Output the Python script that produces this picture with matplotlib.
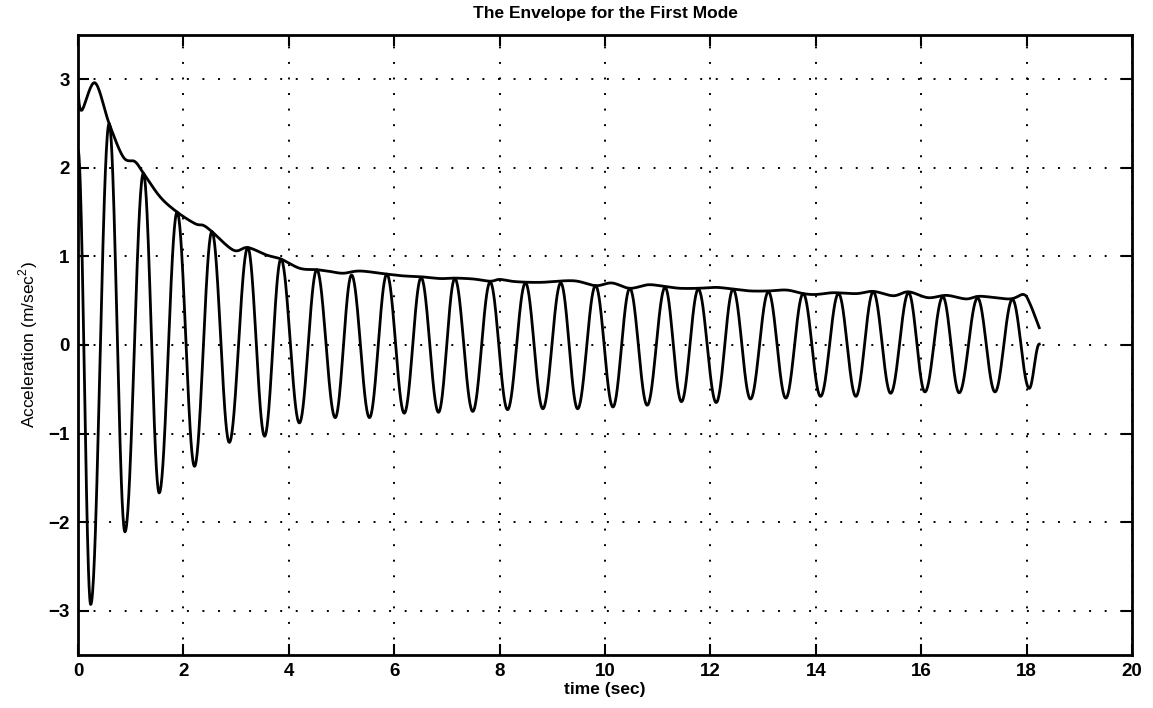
import numpy as np
import matplotlib
matplotlib.use("Agg")
import matplotlib.pyplot as plt

# ---- data ----
# extrema of the oscillating acceleration signal (time, value)
sig_t = [0.00, 0.24, 0.59, 0.89, 1.24, 1.54, 1.88, 2.21, 2.54, 2.87, 3.22, 3.54,
         3.85, 4.20, 4.53, 4.88, 5.19, 5.53, 5.86, 6.19, 6.51, 6.84, 7.15, 7.49,
         7.82, 8.15, 8.49, 8.82, 9.16, 9.48, 9.82, 10.15, 10.47, 10.80, 11.14,
         11.45, 11.77, 12.11, 12.43, 12.76, 13.10, 13.43, 13.76, 14.09, 14.43,
         14.76, 15.09, 15.42, 15.76, 16.07, 16.41, 16.72, 17.07, 17.40, 17.73,
         18.05, 18.24]
sig_v = [2.20, -2.93, 2.50, -2.11, 1.94, -1.67, 1.50, -1.37, 1.28, -1.10, 1.10, -1.03,
         0.97, -0.88, 0.85, -0.82, 0.79, -0.82, 0.80, -0.77, 0.76, -0.76, 0.75, -0.75,
         0.71, -0.73, 0.70, -0.72, 0.70, -0.72, 0.67, -0.70, 0.64, -0.68, 0.65,
         -0.64, 0.63, -0.65, 0.63, -0.61, 0.60, -0.60, 0.58, -0.58, 0.58,
         -0.58, 0.60, -0.545, 0.59, -0.53, 0.545, -0.54, 0.53, -0.53, 0.515,
         -0.49, 0.01]

# envelope trace (time, value)
env_t = [0.00, 0.07, 0.32, 0.59, 0.86, 1.08, 1.24, 1.56, 1.88, 2.22, 2.38, 2.54,
         2.95, 3.22, 3.58, 3.85, 4.21, 4.53, 4.78, 5.03, 5.35, 5.86, 6.17, 6.51,
         6.87, 7.15, 7.50, 7.82, 8.00, 8.30, 8.77, 9.40, 9.82, 10.13, 10.47, 10.82,
         11.14, 11.42, 11.77, 12.12, 12.43, 12.76, 13.10, 13.45, 13.76, 14.00,
         14.33, 14.77, 15.09, 15.47, 15.76, 16.13, 16.48, 16.85, 17.12, 17.68,
         17.94, 18.06, 18.24]
env_v = [2.85, 2.65, 2.96, 2.50, 2.12, 2.07, 1.94, 1.67, 1.50, 1.37, 1.35, 1.28,
         1.07, 1.10, 1.015, 0.97, 0.865, 0.85, 0.83, 0.81, 0.835, 0.80, 0.78, 0.77,
         0.75, 0.755, 0.745, 0.72, 0.74, 0.715, 0.707, 0.725, 0.67, 0.70, 0.64, 0.68,
         0.66, 0.64, 0.64, 0.65, 0.63, 0.61, 0.61, 0.62, 0.58, 0.57,
         0.59, 0.58, 0.605, 0.556, 0.60, 0.534, 0.56, 0.52, 0.55, 0.52,
         0.57, 0.47, 0.195]

x_ticks = [0, 2, 4, 6, 8, 10, 12, 14, 16, 18, 20]
y_ticks = [-3, -2, -1, 0, 1, 2, 3]
title = "The Envelope for the First Mode"
xlabel = "time (sec)"
ylabel = "Acceleration (m/sec$^2$)"


def cosine_path(t, v, n=40):
    """Draw half-cosine arcs between consecutive extrema."""
    xs, ys = [t[0]], [v[0]]
    for i in range(len(t) - 1):
        s = np.linspace(0, 1, n)[1:]
        w = (1 - np.cos(np.pi * s)) / 2
        xs.extend(t[i] + (t[i + 1] - t[i]) * s)
        ys.extend(v[i] + (v[i + 1] - v[i]) * w)
    return np.array(xs), np.array(ys)


def smooth_path(t, v, n=20):
    """Catmull-Rom rendering of a traced curve."""
    P = np.column_stack([t, v])
    P = np.vstack([P[0], P, P[-1]])
    out = [P[1]]
    for i in range(1, len(P) - 2):
        p0, p1, p2, p3 = P[i - 1], P[i], P[i + 1], P[i + 2]
        for s in np.linspace(0, 1, n)[1:]:
            s2, s3 = s * s, s * s * s
            pt = 0.5 * ((2 * p1) + (-p0 + p2) * s + (2 * p0 - 5 * p1 + 4 * p2 - p3) * s2
                        + (-p0 + 3 * p1 - 3 * p2 + p3) * s3)
            out.append(pt)
    out = np.array(out)
    return out[:, 0], out[:, 1]


plt.rcParams['font.family'] = ['Liberation Sans', 'DejaVu Sans']
plt.rcParams['mathtext.fontset'] = 'custom'
plt.rcParams['mathtext.rm'] = 'Liberation Sans'

fig = plt.figure(figsize=(11.53, 7.08), dpi=100)
ax = fig.add_axes([0.0677, 0.0749, 0.9141, 0.8757])

sx, sy = cosine_path(sig_t, sig_v)
ex, ey = smooth_path(env_t, env_v)
ax.plot(sx, sy, color='black', lw=2.0, solid_joinstyle='round')
ax.plot(ex, ey, color='black', lw=2.0, solid_joinstyle='round')

ax.set_xlim(0, 20)
ax.set_ylim(-3.5, 3.5)
ax.set_xticks(x_ticks)
ax.set_yticks(y_ticks)
ax.set_xticklabels([str(v) for v in x_ticks])
ax.set_yticklabels([str(v).replace('-', '\u2212') for v in y_ticks])

ax.grid(True, color='black', linestyle=(0, (1, 7)), linewidth=1.4)
ax.tick_params(direction='in', length=8, width=1.5, top=True, right=True,
               labelsize=13.5, pad=6)
for lab in ax.get_xticklabels() + ax.get_yticklabels():
    lab.set_fontweight('bold')
for sp in ax.spines.values():
    sp.set_linewidth(2.0)

ax.set_title(title, fontsize=12.5, fontweight='bold', pad=12)
ax.set_xlabel(xlabel, fontsize=12.5, fontweight='bold', labelpad=1)
ax.set_ylabel(ylabel, fontsize=12.5, labelpad=6)

fig.savefig("out.png", dpi=100)
